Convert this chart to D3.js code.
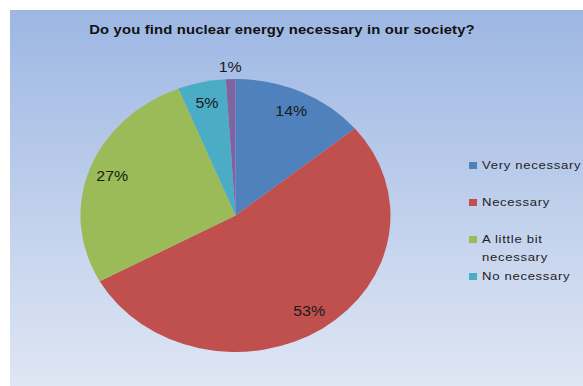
<!DOCTYPE html>
<html><head><meta charset="utf-8">
<script src="https://cdn.jsdelivr.net/npm/d3@7"></script>
<style>html,body{margin:0;padding:0;background:#fff;}svg{display:block;}</style>
</head><body>
<svg id="chart" width="583" height="386"></svg>
<script>
const categories = ["Very necessary", "Necessary", "A little bit\nnecessary", "No necessary", ""];
const values = [14, 53, 27, 5, 1];
const labels = ["14%", "53%", "27%", "5%", "1%"];
const colors = ["#4f81bd", "#c0504d", "#9bbb59", "#4bacc6", "#8064a2"];
const title = "Do you find nuclear energy necessary in our society?";

const svg = d3.select("#chart");
const W = 583, H = 386;
const sx = 1.14; // horizontal stretch of the original picture

const defs = svg.append("defs");
const grad = defs.append("linearGradient").attr("id","bg").attr("x1",0).attr("y1",0).attr("x2",0).attr("y2",1);
grad.append("stop").attr("offset","0%").attr("stop-color","#9db7e3");
grad.append("stop").attr("offset","100%").attr("stop-color","#dfe6f4");

svg.append("rect").attr("x",0).attr("y",0).attr("width",W).attr("height",H).attr("fill","#fff");
svg.append("rect").attr("x",10).attr("y",10).attr("width",W-10).attr("height",H-10).attr("fill","url(#bg)");

// title
svg.append("g").attr("transform",`translate(282,34) scale(${sx},1)`)
  .append("text").attr("text-anchor","middle")
  .attr("font-family","Liberation Sans, Arial, sans-serif").attr("font-weight","bold")
  .attr("font-size",13).attr("letter-spacing",0.15).attr("fill","#111").text(title);

// pie
const cx = 235.5, cy = 215.5, R = 155, ky = 136.5/155;
const data = categories.map((c,i)=>({name:c, value:values[i], label:labels[i], color:colors[i]}));
const pie = d3.pie().sort(null).value(d=>d.value);
const arcs = pie(data);
const arc = d3.arc().innerRadius(0).outerRadius(R);

const g = svg.append("g").attr("transform",`translate(${cx},${cy}) scale(1,${ky})`);
g.selectAll("path").data(arcs).join("path").attr("d",arc).attr("fill",d=>d.data.color);

// labels
svg.selectAll("g.lbl").data(arcs).join("g").attr("class","lbl")
  .attr("transform",d=>{
    const small = (d.endAngle-d.startAngle) < 0.1;
    const r = small ? 169 : 131;
    const a = (d.startAngle+d.endAngle)/2;
    const x = cx + r*Math.sin(a), y = cy - r*Math.cos(a)*ky;
    return `translate(${x},${y}) scale(${sx},1)`;
  })
  .append("text").attr("text-anchor","middle").attr("dy","0.35em")
  .attr("font-family","Liberation Sans, Arial, sans-serif").attr("font-size",14)
  .attr("fill","#1a1a1a").text(d=>d.data.label);

// legend
const legendItems = data.filter(d=>d.name !== "");
const ly = d3.scaleLinear().domain([0,1]).range([169,206]);
const lg = svg.selectAll("g.leg").data(legendItems).join("g").attr("class","leg")
  .attr("transform",(d,i)=>`translate(469,${ly(i)})`);
lg.append("rect").attr("x",0).attr("y",-7).attr("width",8).attr("height",7).attr("fill",d=>d.color);
lg.append("g").attr("transform",`translate(13,0) scale(${sx},1)`)
  .append("text").attr("font-family","Liberation Sans, Arial, sans-serif").attr("font-size",11.5)
  .attr("letter-spacing",0.6).attr("fill","#222")
  .selectAll("tspan").data(d=>d.name.split("\n")).join("tspan")
  .attr("x",0).attr("dy",(t,j)=>j===0?0:18).text(t=>t);
</script>
</body></html>
